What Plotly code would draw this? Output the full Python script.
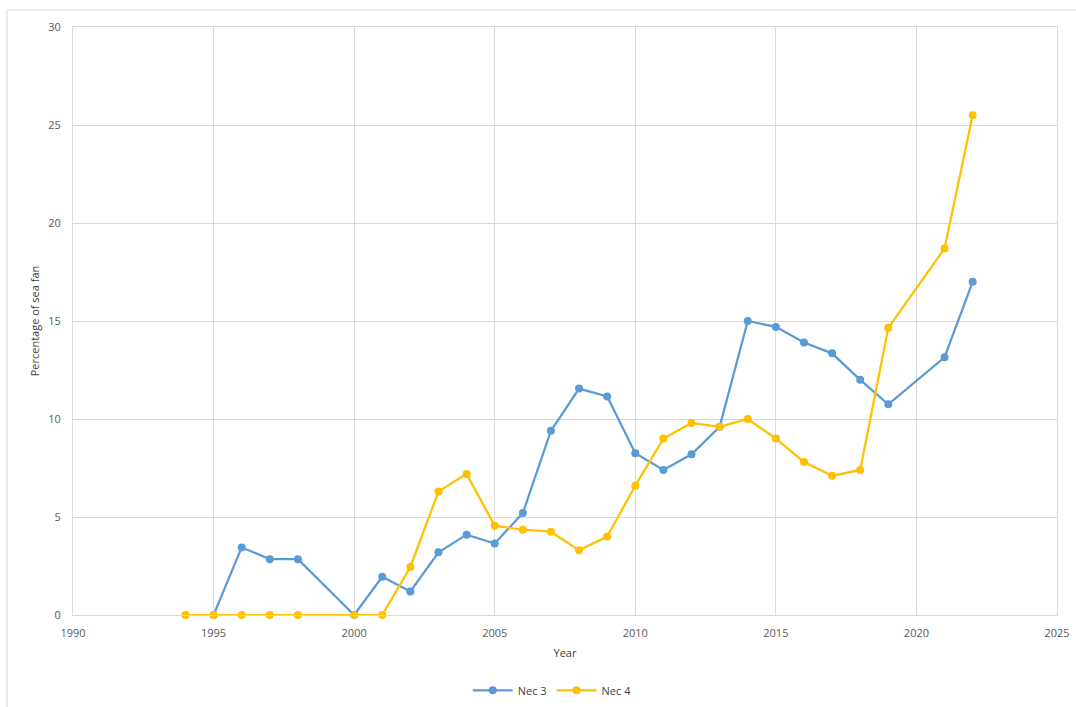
import plotly.graph_objects as go

# Survey years and percentage of sea fan per site
years_nec3 = [1995, 1996, 1997, 1998, 2000, 2001, 2002, 2003, 2004, 2005, 2006, 2007,
              2008, 2009, 2010, 2011, 2012, 2013, 2014, 2015, 2016, 2017, 2018, 2019,
              2021, 2022]
nec3 = [0, 3.45, 2.85, 2.85, 0, 1.95, 1.2, 3.2, 4.1, 3.65, 5.2, 9.4,
        11.55, 11.15, 8.25, 7.4, 8.2, 9.6, 15.0, 14.7, 13.9, 13.35, 12.0, 10.75,
        13.15, 17.0]

years_nec4 = [1994, 1995, 1996, 1997, 1998, 2000, 2001, 2002, 2003, 2004, 2005, 2006,
              2007, 2008, 2009, 2010, 2011, 2012, 2013, 2014, 2015, 2016, 2017, 2018,
              2019, 2021, 2022]
nec4 = [0, 0, 0, 0, 0, 0, 0, 2.45, 6.3, 7.2, 4.55, 4.35,
        4.25, 3.3, 4.0, 6.6, 9.0, 9.8, 9.6, 10.0, 9.0, 7.8, 7.1, 7.4,
        14.65, 18.7, 25.5]

x_ticks = [1990, 1995, 2000, 2005, 2010, 2015, 2020, 2025]
y_ticks = [0, 5, 10, 15, 20, 25, 30]

BLUE = "#5B9BD5"
GOLD = "#FFC000"
FONT = "Open Sans, Liberation Sans, sans-serif"

fig = go.Figure()
fig.add_trace(go.Scatter(
    x=years_nec3, y=nec3, name="Nec 3", mode="lines+markers",
    line=dict(color=BLUE, width=2.25), marker=dict(size=8, color=BLUE),
    cliponaxis=False,
))
fig.add_trace(go.Scatter(
    x=years_nec4, y=nec4, name="Nec 4", mode="lines+markers",
    line=dict(color=GOLD, width=2.25), marker=dict(size=8, color=GOLD),
    cliponaxis=False,
))

grid = "#D9D9D9"
fig.update_layout(
    width=1076, height=707,
    margin=dict(l=73, r=19, t=27, b=92, autoexpand=False),
    paper_bgcolor="white", plot_bgcolor="white",
    font=dict(family=FONT, size=11, color="#595959"),
    showlegend=True,
    legend=dict(orientation="h", x=0.487, xanchor="center", y=-0.128, yanchor="middle",
                font=dict(size=11, color="#404040"), itemwidth=40,
                bgcolor="rgba(0,0,0,0)"),
    xaxis=dict(
        range=[1990, 2025], tickmode="array", tickvals=x_ticks,
        ticktext=[str(t) for t in x_ticks],
        showgrid=True, gridcolor=grid, gridwidth=1,
        showline=True, linecolor=grid, linewidth=1, mirror=True,
        zeroline=False, ticks="", ticklen=0, ticklabelstandoff=8,
        automargin=False,
        title=dict(text="Year", font=dict(size=11, color="#404040"), standoff=10),
    ),
    yaxis=dict(
        range=[0, 30], tickmode="array", tickvals=y_ticks,
        ticktext=[str(t) for t in y_ticks],
        showgrid=True, gridcolor=grid, gridwidth=1,
        showline=True, linecolor=grid, linewidth=1, mirror=True,
        zeroline=False, ticks="", ticklen=0, ticklabelstandoff=9,
        automargin=False,
        title=dict(text="Percentage of sea fan", font=dict(size=11, color="#404040"),
                   standoff=6),
    ),
    shapes=[dict(
        type="rect", xref="paper", yref="paper",
        x0=-0.067, x1=1.06, y0=-0.2, y1=1.029,
        line=dict(color="#D9D9D9", width=1), fillcolor="rgba(0,0,0,0)", layer="below",
    )],
)

fig.write_html("out.html")
